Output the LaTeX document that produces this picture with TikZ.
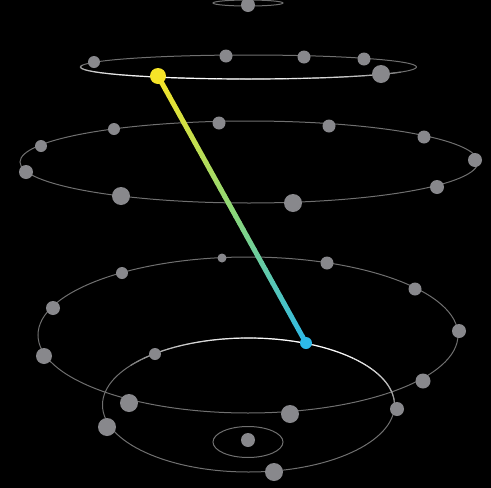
\documentclass[tikz,border=0pt]{standalone}
\usetikzlibrary{calc}
\definecolor{ring}{RGB}{112,112,112}
\definecolor{dotc}{RGB}{136,136,140}
\definecolor{yel}{RGB}{246,228,40}
\definecolor{grn}{RGB}{140,215,120}
\definecolor{cya}{RGB}{45,185,232}
\newcommand\hlarc[6]{%
  \foreach \d in {-#6,...,#6}{%
    \pgfmathsetmacro\ta{#5+\d*4}%
    \pgfmathsetmacro\tb{#5+\d*4+4}%
    \pgfmathtruncatemacro\w{100*(1-(abs(\d)/(#6+1))^2)}%
    \draw[white!\w!ring, line width=1.2pt] plot[domain=\ta:\tb, samples=4] ({#1+#3*cos(\x)},{#2+#4*sin(\x)});
  }}
\begin{document}
\begin{tikzpicture}[x=1pt,y=-1pt,
  ringline/.style={draw=ring, line width=1pt},
  dotnode/.style={circle, fill=dotc, inner sep=0pt, minimum size=#1}]
\fill[black] (0,0) rectangle (491,488);
\useasboundingbox (0,0) rectangle (491,488);
% rings
\draw[ringline] (248,3) ellipse [x radius=35, y radius=3];
\draw[ringline] (248.5,67) ellipse [x radius=168, y radius=12];
\hlarc{248.5}{67}{168}{12}{105}{20}
\draw[ringline] (249,162) ellipse [x radius=229, y radius=41];
\draw[ringline] (248,335) ellipse [x radius=210, y radius=78];
\draw[ringline] (248.5,405) ellipse [x radius=146, y radius=67];
\hlarc{248.5}{405}{146}{67}{-72}{18}
\draw[ringline] (248,442) ellipse [x radius=35, y radius=15.5];
% dots ring 1
\node[dotnode=14] (a1) at (248,5) {};
% ring 2
\node[dotnode=12] (b1) at (94,62) {};
\node[dotnode=13] (b2) at (226,56) {};
\node[dotnode=13] (b3) at (304,57) {};
\node[dotnode=13] (b4) at (364,59) {};
\node[dotnode=18] (b5) at (381,74) {};
% ring 3
\node[dotnode=12] (c1) at (41,146) {};
\node[dotnode=12] (c2) at (114,129) {};
\node[dotnode=13] (c3) at (219,123) {};
\node[dotnode=13] (c4) at (329,126) {};
\node[dotnode=13] (c5) at (424,137) {};
\node[dotnode=14] (c6) at (475,160) {};
\node[dotnode=14] (c7) at (26,172) {};
\node[dotnode=18] (c8) at (121,196) {};
\node[dotnode=18] (c9) at (293,203) {};
\node[dotnode=14] (c10) at (437,187) {};
% ring 4
\node[dotnode=9] (d1) at (222,258) {};
\node[dotnode=12] (d2) at (122,273) {};
\node[dotnode=13] (d3) at (327,263) {};
\node[dotnode=14] (d4) at (53,308) {};
\node[dotnode=13] (d5) at (415,289) {};
\node[dotnode=14] (d6) at (459,331) {};
\node[dotnode=16] (d7) at (44,356) {};
\node[dotnode=18] (d8) at (129,403) {};
\node[dotnode=18] (d9) at (290,414) {};
\node[dotnode=15] (d10) at (423,381) {};
% ring 5
\node[dotnode=12] (e1) at (155,354) {};
\node[dotnode=18] (e2) at (107,427) {};
\node[dotnode=18] (e3) at (274,472) {};
\node[dotnode=14] (e4) at (397,409) {};
% ring 6
\node[dotnode=14] (f1) at (248,440) {};
% gradient connector
\node[circle, inner sep=0pt, minimum size=16] (y) at (158,76) {};
\node[circle, inner sep=0pt, minimum size=12] (bl) at (306,343) {};
\foreach \i in {0,...,39}{%
  \pgfmathsetmacro\pa{\i/40}%
  \pgfmathsetmacro\pb{(\i+1)/40}%
  \ifnum\i<20
    \pgfmathtruncatemacro\p{\i*5}%
    \draw[grn!\p!yel, line width=5pt, line cap=round] ($(y.center)!\pa!(bl.center)$) -- ($(y.center)!\pb!(bl.center)$);
  \else
    \pgfmathtruncatemacro\p{(\i-20)*5}%
    \draw[cya!\p!grn, line width=5pt, line cap=round] ($(y.center)!\pa!(bl.center)$) -- ($(y.center)!\pb!(bl.center)$);
  \fi
}
\fill[yel] (y.center) circle (8);
\fill[cya] (bl.center) circle (6);
\end{tikzpicture}
\end{document}
